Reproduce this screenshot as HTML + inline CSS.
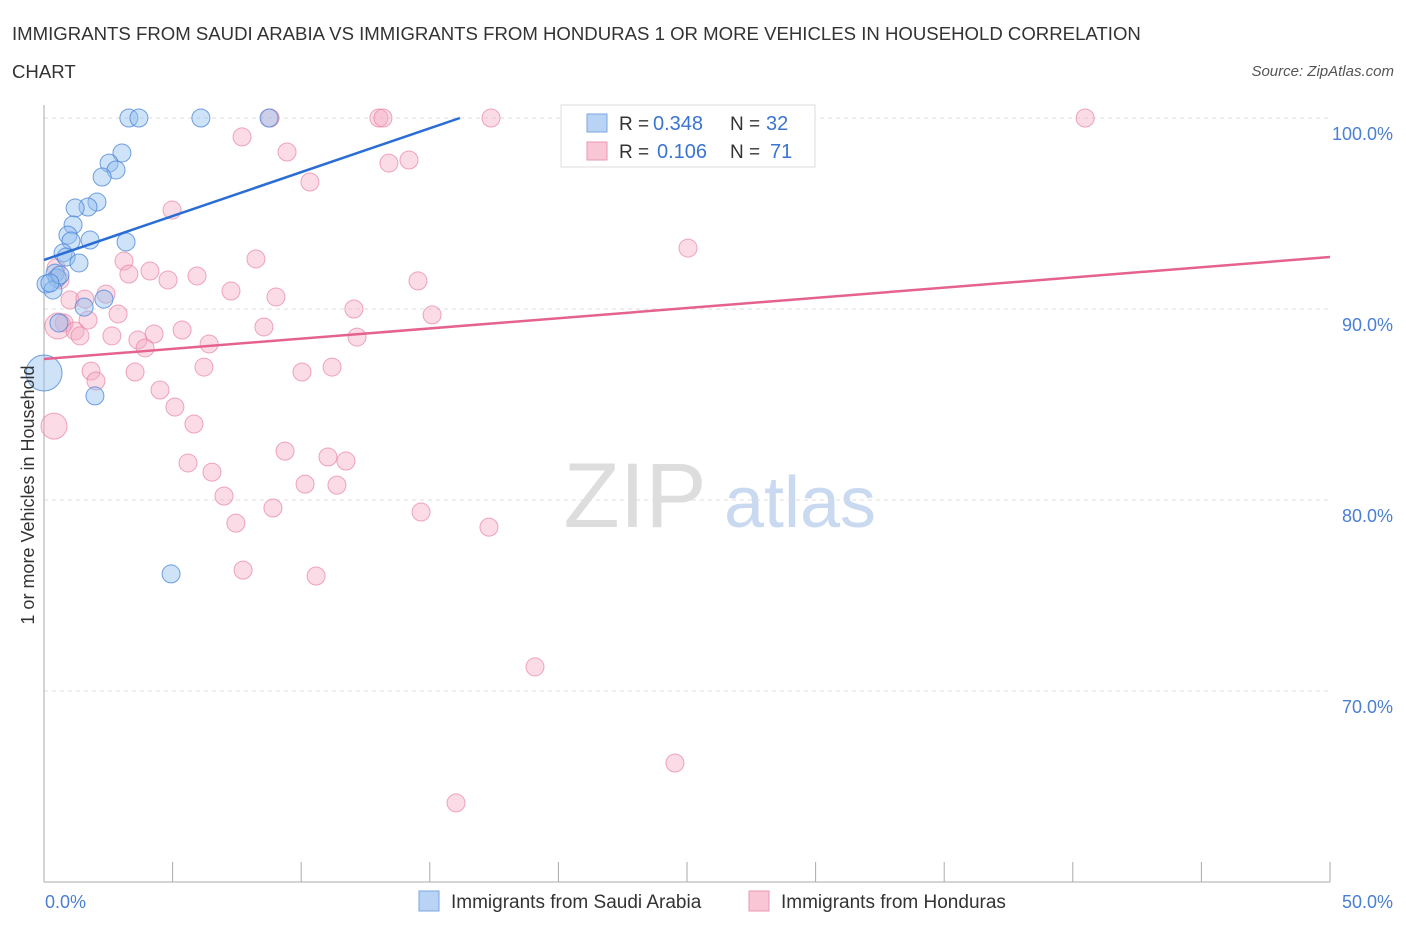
<!DOCTYPE html>
<html><head><meta charset="utf-8"><style>
body{margin:0;background:#fff;font-family:"Liberation Sans",sans-serif;}
svg text{font-family:"Liberation Sans",sans-serif;}
</style></head><body>
<svg id="c" width="1406" height="930">
<text x="12" y="40" font-size="18.6" fill="#333">IMMIGRANTS FROM SAUDI ARABIA VS IMMIGRANTS FROM HONDURAS 1 OR MORE VEHICLES IN HOUSEHOLD CORRELATION</text>
<text x="12" y="78" font-size="18.6" fill="#333">CHART</text>
<text x="1394" y="76" font-size="15" fill="#555" font-style="italic" text-anchor="end">Source: ZipAtlas.com</text>
<text x="635" y="527" font-size="92" fill="#ddd" font-family="Liberation Serif" text-anchor="middle">ZIP</text>
<text x="800" y="527" font-size="72" fill="#c9daf0" text-anchor="middle">atlas</text>
<g id="grid"></g><g id="axes"></g><g id="marks"></g>
<text x="34" y="495" font-size="18" fill="#333" text-anchor="middle" transform="rotate(-90 34 495)">1 or more Vehicles in Household</text>
<text x="45" y="908" font-size="18" fill="#4a7fd4">0.0%</text>
<text x="1393" y="908" font-size="18" fill="#4a7fd4" text-anchor="end">50.0%</text>
<g>
<rect x="561" y="105" width="254" height="62" fill="#fff" stroke="#ddd"/>
<rect x="587" y="114" width="20" height="18" fill="#b9d3f5" stroke="#7aa6e0"/>
<rect x="587" y="142" width="20" height="18" fill="#f9c6d6" stroke="#e89ab3"/>
<text x="619" y="130" font-size="19" fill="#333">R =</text>
<text x="653" y="130" font-size="20" fill="#3b74d1">0.348</text>
<text x="730" y="130" font-size="19" fill="#333">N =</text>
<text x="766" y="130" font-size="20" fill="#3b74d1">32</text>
<text x="619" y="158" font-size="19" fill="#333">R =</text>
<text x="657" y="158" font-size="20" fill="#3b74d1">0.106</text>
<text x="730" y="158" font-size="19" fill="#333">N =</text>
<text x="770" y="158" font-size="20" fill="#3b74d1">71</text>
</g>
<g>
<rect x="419" y="891" width="20" height="20" fill="#b9d3f5" stroke="#7aa6e0"/>
<text x="451" y="908" font-size="19" fill="#333">Immigrants from Saudi Arabia</text>
<rect x="749" y="891" width="20" height="20" fill="#f9c6d6" stroke="#e89ab3"/>
<text x="781" y="908" font-size="19" fill="#333">Immigrants from Honduras</text>
</g>
</svg>
<script>
const yTicks=[100,90,80,70];
const yTickLabels=["100.0%","90.0%","80.0%","70.0%"];
const xTicks=[0,5,10,15,20,25,30,35,40,45,50];
const blueX=[3.30,3.69,6.10,8.75,20.49,3.03,2.53,2.80,2.26,2.06,1.71,1.21,1.13,0.93,1.05,1.79,3.19,0.74,0.86,1.36,0.43,0.51,0.08,0.35,2.33,1.56,0.58,1.98,4.94,0,0.62,0.23];
const blueY=[100,100,100,100,100,98.17,97.64,97.28,96.91,95.60,95.34,95.29,94.40,93.87,93.56,93.61,93.51,92.93,92.72,92.41,91.88,91.62,91.31,90.99,90.52,90.10,89.27,85.45,76.13,86.65,91.78,91.36];
const blueSize=[1,1,1,1,1,1,1,1,1,1,1,1,1,1,1,1,1,1,1,1,1,1,1,1,1,1,1,1,1,2,1,1];
const pinkX=[8.79,13.02,13.18,17.38,23.83,28.19,40.48,7.70,9.45,14.19,13.41,10.34,4.98,25.04,3.11,8.24,4.12,5.95,3.30,4.82,14.54,7.27,9.02,2.41,1.01,1.59,12.05,2.88,15.09,1.71,0.78,0.54,1.21,8.55,5.37,4.28,1.40,2.64,12.17,3.65,6.42,3.93,1.83,2.02,3.54,6.22,10.03,11.20,4.51,5.09,5.83,0.39,9.37,5.60,11.04,11.74,6.53,10.15,11.39,7.00,8.90,14.66,7.46,17.30,7.74,10.58,19.09,24.53,16.02,0.47,0.62];
const pinkY=[100,100,100,100,100,100,100,99.01,98.22,97.80,97.64,96.65,95.18,93.19,92.51,92.62,91.99,91.73,91.83,91.52,91.47,90.94,90.63,90.78,90.47,90.52,90.0,89.74,89.69,89.42,89.27,89.11,88.85,89.06,88.90,88.69,88.59,88.59,88.53,88.38,88.17,87.96,86.75,86.23,86.70,86.96,86.70,86.96,85.76,84.87,83.98,83.87,82.56,81.94,82.25,82.04,81.46,80.83,80.78,80.21,79.58,79.37,78.79,78.58,76.33,76.02,71.26,66.23,64.14,92.15,91.52];
const pinkBig=[31,51];
const blueTrend=[[0,92.57],[16.17,100]];
const pinkTrend=[[0,87.38],[50,92.72]];
const X=v=>44+v*25.72, Y=v=>118+(100-v)*19.1;
const NS="http://www.w3.org/2000/svg";
function mk(t,a,p){const e=document.createElementNS(NS,t);for(const k in a)e.setAttribute(k,a[k]);document.getElementById(p).appendChild(e);return e;}
yTicks.forEach((t,i)=>{
 const g=mk("line",{x1:44,x2:1330,y1:Y(t),y2:Y(t),stroke:"#ddd","stroke-dasharray":"4,4"},"grid");
 
 
 const l=mk("text",{x:1393,y:Y(t)+22,"font-size":18,fill:"#4a7fd4","text-anchor":"end"},"grid");
 l.textContent=yTickLabels[i];
 
 
});
const ax=mk("line",{x1:44,x2:44,y1:105,y2:882,stroke:"#aaa"},"axes");


const bx=mk("line",{x1:44,x2:1330,y1:882,y2:882,stroke:"#aaa"},"axes");


xTicks.forEach(t=>{
 const k=mk("line",{x1:X(t),x2:X(t),y1:862,y2:882,stroke:"#aaa"},"axes");
 
 
});
pinkX.forEach((x,i)=>{
 const c=mk("circle",{cx:X(x),cy:Y(pinkY[i]),r:pinkBig.includes(i)?13:9,fill:"rgba(246,168,193,0.4)",stroke:"rgba(232,130,162,0.7)"},"marks");
 
 
});
blueX.forEach((x,i)=>{
 const c=mk("circle",{cx:X(x),cy:Y(blueY[i]),r:9*blueSize[i],fill:"rgba(147,190,240,0.45)",stroke:"rgba(70,130,215,0.75)"},"marks");
 
 
});
const bl=mk("line",{x1:X(blueTrend[0][0]),y1:Y(blueTrend[0][1]),x2:X(blueTrend[1][0]),y2:Y(blueTrend[1][1]),stroke:"#2a6dd4","stroke-width":2.5},"marks");


const pl=mk("line",{x1:X(pinkTrend[0][0]),y1:Y(pinkTrend[0][1]),x2:X(pinkTrend[1][0]),y2:Y(pinkTrend[1][1]),stroke:"#e5628f","stroke-width":2.5},"marks");


</script>
</body></html>
